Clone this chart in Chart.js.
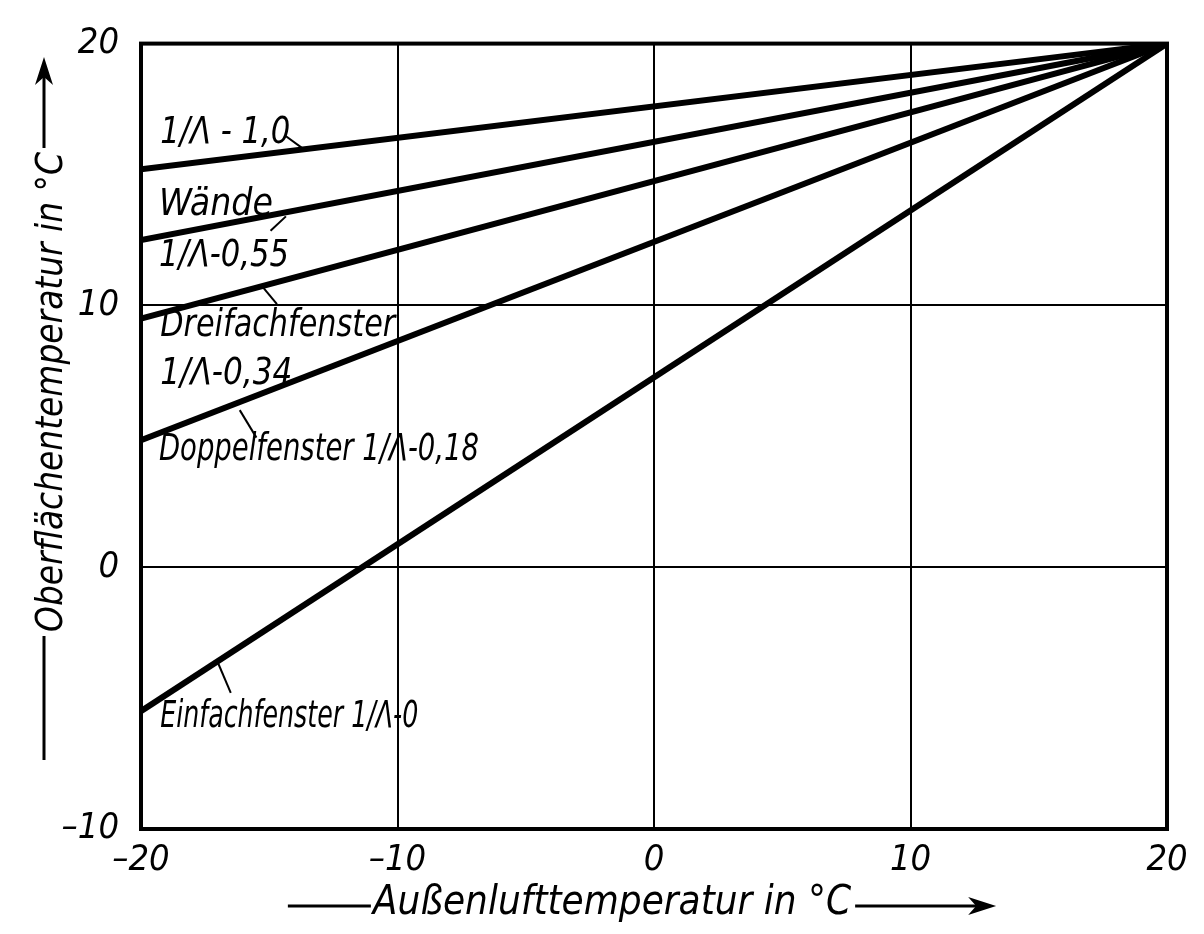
<!DOCTYPE html>
<html>
<head>
<meta charset="utf-8">
<script src="https://cdn.jsdelivr.net/npm/chart.js@4"></script>
<style>
  body { margin: 0; background: #fff; }
  canvas { display: block; }
</style>
</head>
<body>
<canvas id="chart" width="1204" height="934"></canvas>
<script>
// Außenlufttemperatur (x) und Oberflächentemperatur (y) in °C
const outsideTemps = [-20, 20];
const lambda10 = [15.2, 20];
const waende055 = [12.5, 20];
const dreifach034 = [9.5, 20];
const doppel018 = [4.85, 20];
const einfach0 = [-5.5, 20];
const xTicks = [-20, -10, 0, 10, 20];
const yTicks = [-10, 0, 10, 20];

const FONT = "'Liberation Sans Narrow', 'DejaVu Sans Condensed', 'DejaVu Sans', sans-serif";

// Beschriftungen im Diagramm (Datenkoordinaten), Breite in px, Hinweisstriche
const notes = [
    { text: '1/Λ - 1,0', x: -19.25, y: 16.2, w: 130, leader: [[-14.4, 16.5], [-13.7, 16.0]] },
    { text: 'Wände', x: -19.3, y: 13.45, w: 114, leader: [[-14.95, 12.85], [-14.35, 13.4]] },
    { text: '1/Λ-0,55', x: -19.3, y: 11.5, w: 130, leader: [[-15.25, 10.7], [-14.7, 10.05]] },
    { text: 'Dreifachfenster', x: -19.25, y: 8.85, w: 235, leader: null },
    { text: '1/Λ-0,34', x: -19.25, y: 7.0, w: 132, leader: [[-16.15, 6.0], [-15.5, 4.95]] },
    { text: 'Doppelfenster 1/Λ-0,18', x: -19.3, y: 4.1, w: 320, leader: [[-17.0, -3.65], [-16.5, -4.8]] },
    { text: 'Einfachfenster 1/Λ-0', x: -19.25, y: -6.1, w: 258, leader: null }
];

const series = [lambda10, waende055, dreifach034, doppel018, einfach0];

function fmt(v) {
    return v < 0 ? '–' + Math.abs(v) : String(v);
}

function arrow(ctx, x, y) {
    ctx.beginPath();
    ctx.moveTo(x, y);
    ctx.lineTo(x - 28, y - 9);
    ctx.lineTo(x - 20, y);
    ctx.lineTo(x - 28, y + 9);
    ctx.closePath();
    ctx.fill();
}

const drawExtras = {
    id: 'drawExtras',
    afterDraw(chart) {
        const ctx = chart.ctx;
        const area = chart.chartArea;
        const xs = chart.scales.x;
        const ys = chart.scales.y;
        ctx.save();

        // Rahmen
        ctx.strokeStyle = '#000';
        ctx.lineWidth = 4;
        ctx.strokeRect(area.left, area.top, area.right - area.left, area.bottom - area.top);

        // Texte im Diagramm
        ctx.fillStyle = '#000';
        ctx.font = 'italic 37px ' + FONT;
        ctx.textBaseline = 'alphabetic';
        ctx.textAlign = 'left';
        notes.forEach(n => {
            ctx.fillText(n.text, xs.getPixelForValue(n.x), ys.getPixelForValue(n.y), n.w);
            if (n.leader) {
                ctx.lineWidth = 2;
                ctx.beginPath();
                ctx.moveTo(xs.getPixelForValue(n.leader[0][0]), ys.getPixelForValue(n.leader[0][1]));
                ctx.lineTo(xs.getPixelForValue(n.leader[1][0]), ys.getPixelForValue(n.leader[1][1]));
                ctx.stroke();
            }
        });

        // x-Achsentitel
        ctx.font = 'italic 40px ' + FONT;
        ctx.textBaseline = 'middle';
        ctx.textAlign = 'center';
        const xt = 'Außenlufttemperatur in °C';
        const xw = ctx.measureText(xt).width;
        const cx = 612, cy = 904;
        ctx.fillText(xt, cx, cy);
        ctx.lineWidth = 3;
        ctx.beginPath();
        ctx.moveTo(cx - xw / 2 - 85, cy + 2);
        ctx.lineTo(cx - xw / 2 - 2, cy + 2);
        ctx.moveTo(cx + xw / 2 + 4, cy + 2);
        ctx.lineTo(cx + xw / 2 + 130, cy + 2);
        ctx.stroke();
        arrow(ctx, cx + xw / 2 + 145, cy + 2);

        // y-Achsentitel
        const yt = 'Oberflächentemperatur in °C';
        ctx.font = 'italic 38px ' + FONT;
        ctx.save();
        ctx.translate(52, 392);
        ctx.rotate(-Math.PI / 2);
        const yw = Math.min(ctx.measureText(yt).width, 480);
        ctx.fillText(yt, 0, 0, 480);
        ctx.beginPath();
        ctx.moveTo(-yw / 2 - 4, -8);
        ctx.lineTo(-yw / 2 - 128, -8);
        ctx.moveTo(yw / 2 + 4, -8);
        ctx.lineTo(yw / 2 + 80, -8);
        ctx.stroke();
        arrow(ctx, yw / 2 + 95, -8);
        ctx.restore();

        ctx.restore();
    }
};

const config = {
    type: 'scatter',
    data: {
        datasets: series.map(s => ({
            data: outsideTemps.map((x, i) => ({ x: x, y: s[i] })),
            showLine: true,
            borderColor: '#000',
            backgroundColor: '#000',
            borderWidth: 6,
            pointRadius: 0
        }))
    },
    options: {
        responsive: false,
        animation: false,
        layout: {
            padding: { top: 43, right: 37, left: 0, bottom: 0 }
        },
        plugins: {
            legend: { display: false },
            tooltip: { enabled: false }
        },
        scales: {
            x: {
                type: 'linear',
                min: -20,
                max: 20,
                afterBuildTicks: scale => { scale.ticks = xTicks.map(v => ({ value: v })); },
                afterFit: scale => { scale.height = 105; },
                grid: { color: '#000', lineWidth: 2, drawTicks: false },
                border: { display: true, color: '#000', width: 4 },
                ticks: {
                    color: '#000',
                    padding: 10,
                    font: { family: FONT, size: 36, style: 'italic' },
                    callback: fmt
                }
            },
            y: {
                type: 'linear',
                min: -10,
                max: 20,
                afterBuildTicks: scale => { scale.ticks = yTicks.map(v => ({ value: v })); },
                afterFit: scale => { scale.width = 141; },
                grid: { color: '#000', lineWidth: 2, drawTicks: false },
                border: { display: true, color: '#000', width: 4 },
                ticks: {
                    color: '#000',
                    padding: 22,
                    font: { family: FONT, size: 36, style: 'italic' },
                    callback: fmt
                }
            }
        }
    },
    plugins: [drawExtras]
};

window.onload = function () {
    const ctx = document.getElementById('chart').getContext('2d');
    window.myChart = new Chart(ctx, config);
};
</script>
</body>
</html>
